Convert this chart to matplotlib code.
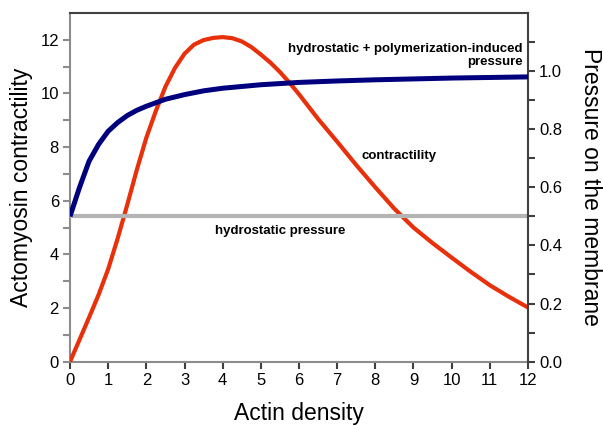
import matplotlib
matplotlib.use("Agg")
import matplotlib.pyplot as plt

plt.rcParams['font.family'] = ['Liberation Sans', 'DejaVu Sans']

# actin density values where the contractility curve was read
x_red = [0, 0.25, 0.5, 0.75, 1, 1.25, 1.5, 1.75, 2, 2.25, 2.5, 2.75, 3, 3.25,
         3.5, 3.75, 4, 4.25, 4.5, 4.75, 5, 5.25, 5.5, 5.75, 6, 6.5, 7, 7.5, 8,
         8.5, 9, 9.5, 10, 10.5, 11, 11.5, 12]
contractility = [0, 0.82, 1.65, 2.50, 3.45, 4.60, 5.85, 7.15, 8.35, 9.35, 10.25,
                 10.95, 11.48, 11.82, 11.99, 12.07, 12.10, 12.06, 11.94, 11.73,
                 11.45, 11.15, 10.80, 10.40, 9.97, 9.05, 8.20, 7.33, 6.50, 5.70,
                 5.00, 4.42, 3.88, 3.35, 2.85, 2.42, 2.02]

# hydrostatic + polymerization-induced pressure (right axis)
x_blue = [0, 0.25, 0.5, 0.75, 1, 1.25, 1.5, 1.75, 2, 2.5, 3, 3.5, 4, 5, 6, 7,
          8, 9, 10, 11, 12]
pressure_total = [0.500, 0.600, 0.690, 0.748, 0.793, 0.823, 0.847, 0.865, 0.879,
                  0.903, 0.919, 0.932, 0.941, 0.953, 0.961, 0.966, 0.970, 0.973,
                  0.976, 0.978, 0.980]

x_grey = [0, 12]
hydrostatic = [0.5, 0.5]

fig = plt.figure(figsize=(6.03, 4.25), dpi=100)
ax = fig.add_axes([0.1161, 0.149, 0.7595, 0.8205])
ax2 = ax.twinx()

ax.plot(x_red, contractility, color='#e8300a', lw=3.0, solid_joinstyle='round', zorder=3)
ax2.plot(x_grey, hydrostatic, color='#b4b4b4', lw=3.0, solid_capstyle='butt', zorder=1)
ax2.plot(x_blue, pressure_total, color='#00007f', lw=3.6, solid_joinstyle='round',
         solid_capstyle='butt', zorder=4)

ax.set_xlim(0, 12)
ax.set_ylim(0, 13)
ax2.set_ylim(0, 1.2)
ax.set_xticks(range(0, 13))
ax.set_yticks([0, 2, 4, 6, 8, 10, 12])
ax.set_yticks([1, 3, 5, 7, 9, 11], minor=True)
ax2.set_yticks([0.0, 0.2, 0.4, 0.6, 0.8, 1.0])
ax2.set_yticklabels(['0.0', '0.2', '0.4', '0.6', '0.8', '1.0'])
ax2.set_yticks([0.1, 0.3, 0.5, 0.7, 0.9, 1.1], minor=True)

grey = '#8c8c8c'
dark = '#404040'
ax.spines['left'].set_color(grey)
ax.spines['bottom'].set_color(grey)
ax.spines['top'].set_color(dark)
ax.spines['right'].set_visible(False)
ax2.spines['right'].set_color(dark)
for s in ['left', 'bottom', 'top']:
    ax2.spines[s].set_visible(False)
for sp in list(ax.spines.values()) + list(ax2.spines.values()):
    sp.set_linewidth(1.5)

ax.tick_params(axis='both', which='both', direction='out', length=5, width=1.5,
               color=grey, labelsize=12, pad=3)
ax.tick_params(axis='x', color=dark)
ax2.tick_params(axis='y', which='both', direction='out', length=5, width=1.5,
                color=dark, labelsize=12, pad=3)

ax.set_xlabel('Actin density', fontsize=16.5)
ax.set_ylabel('Actomyosin contractility', fontsize=16.5)
ax2.set_ylabel('Pressure on the membrane', fontsize=16.5, rotation=270)
ax.xaxis.set_label_coords(0.5, -0.115)
ax.yaxis.set_label_coords(-0.081, 0.5)
ax2.yaxis.set_label_coords(1.161, 0.5)

ax.text(11.86, 11.42, 'hydrostatic + polymerization-induced\npressure',
        ha='right', va='center', fontsize=9.5, fontweight='bold', linespacing=1.05,
        zorder=5)
ax.text(7.65, 7.65, 'contractility', ha='left', va='center', fontsize=9.5,
        fontweight='bold', zorder=5)
ax.text(3.80, 4.87, 'hydrostatic pressure', ha='left', va='center', fontsize=9.5,
        fontweight='bold', zorder=5)

fig.savefig('out.png', dpi=100)
